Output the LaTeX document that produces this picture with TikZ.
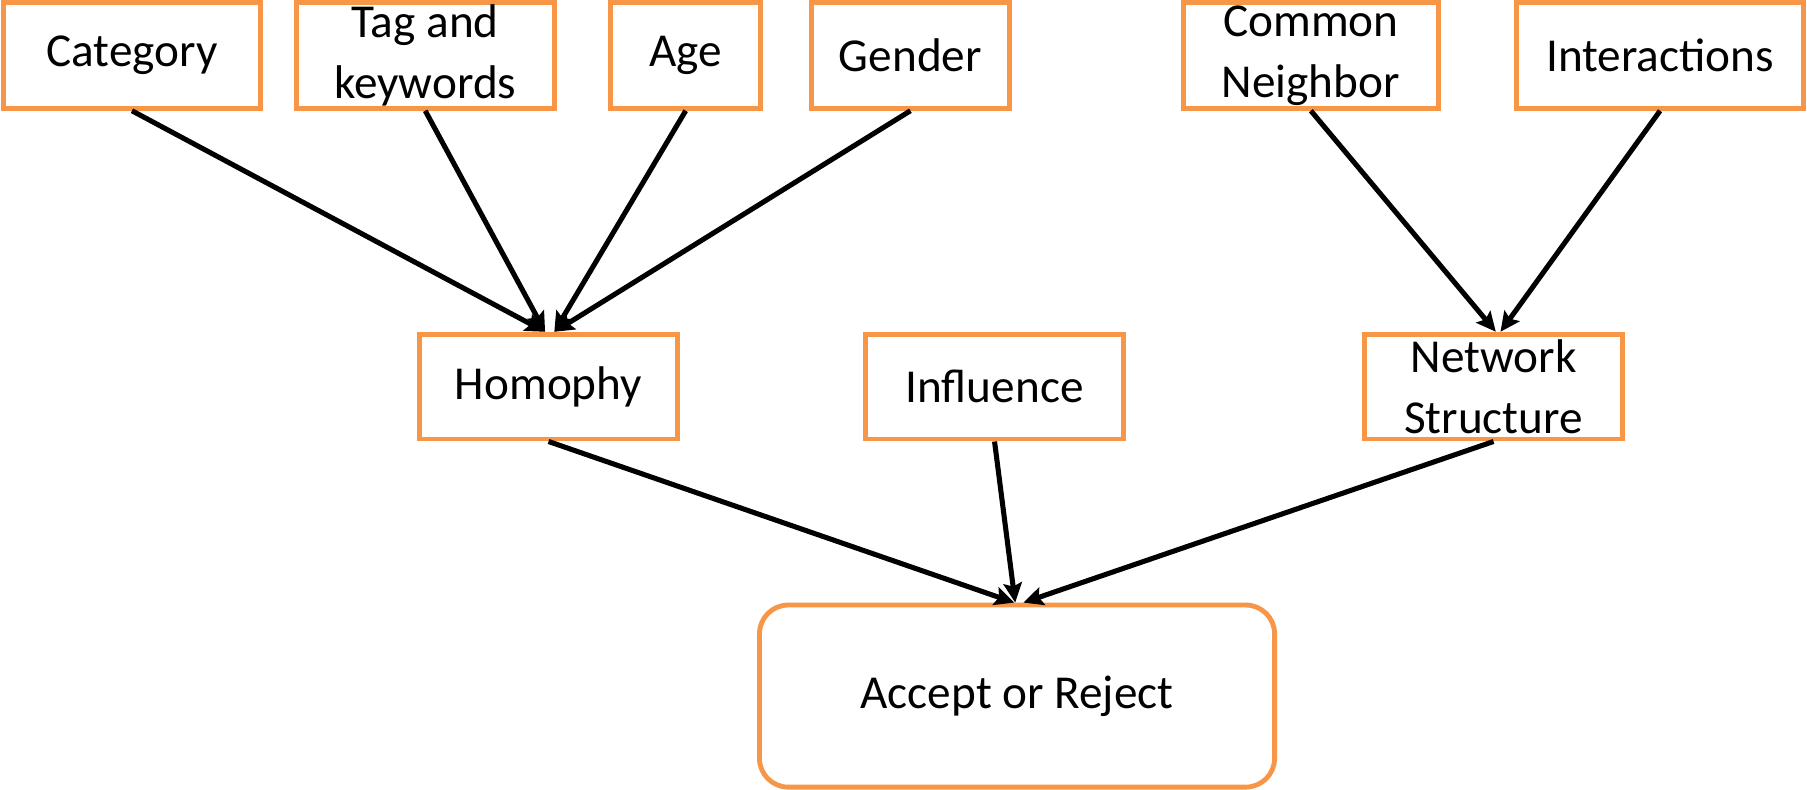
\documentclass[tikz,border=0pt]{standalone}
\usepackage{fontspec}
\setmainfont{Carlito}
\usetikzlibrary{arrows.meta}
\definecolor{orangeb}{HTML}{F79646}
\begin{document}
\begin{tikzpicture}[x=0.5pt,y=-0.5pt,
  box/.style={draw=orangeb, line width=2.1pt, inner sep=0pt, align=center,
    font=\fontsize{20.5}{26.5}\selectfont},
  conn/.style={line width=2.2pt, -{Stealth[length=8.5pt,width=8pt,inset=1.5pt]}}]
\useasboundingbox (0,0) rectangle (1568,685);
% top row
\node[box, minimum width=111.5pt, minimum height=46pt] (cat) at (114.5,48) {Category};
\node[box, minimum width=112pt, minimum height=46pt] (tag) at (369,48) {Tag and\\keywords};
\node[box, minimum width=65pt, minimum height=46pt] (age) at (595,48) {Age};
\node[box, minimum width=86pt, minimum height=46pt] (gen) at (790,48) {Gender};
\node[box, minimum width=110.5pt, minimum height=46pt] (com) at (1137.5,48) {Common\\Neighbor};
\node[box, minimum width=124.5pt, minimum height=46pt] (int) at (1440.5,48) {Interactions};
% middle row
\node[box, minimum width=112pt, minimum height=45.5pt] (hom) at (476,335.5) {Homophy};
\node[box, minimum width=112pt, minimum height=45.5pt] (inf) at (863,335.5) {Influence};
\node[box, minimum width=112pt, minimum height=45.5pt] (net) at (1296,335.5) {Network\\Structure};
% bottom
\node[box, rounded corners=12.5pt, minimum width=223.5pt, minimum height=79pt] (acc) at (882.5,604) {Accept or Reject};
% connectors
\draw[conn] (cat.south) -- ([xshift=-1.5pt]hom.north);
\draw[conn] (tag.south) -- ([xshift=-1.5pt]hom.north);
\draw[conn] (age.south) -- ([xshift=2.5pt]hom.north);
\draw[conn] (gen.south) -- ([xshift=2.5pt]hom.north);
\draw[conn] (com.south) -- ([xshift=1pt]net.north);
\draw[conn] (int.south) -- ([xshift=3pt]net.north);
\draw[conn] (hom.south) -- ([xshift=-1.2pt]acc.north);
\draw[conn] (inf.south) -- ([xshift=-0.8pt]acc.north);
\draw[conn] (net.south) -- ([xshift=2.8pt]acc.north);
\end{tikzpicture}
\end{document}
